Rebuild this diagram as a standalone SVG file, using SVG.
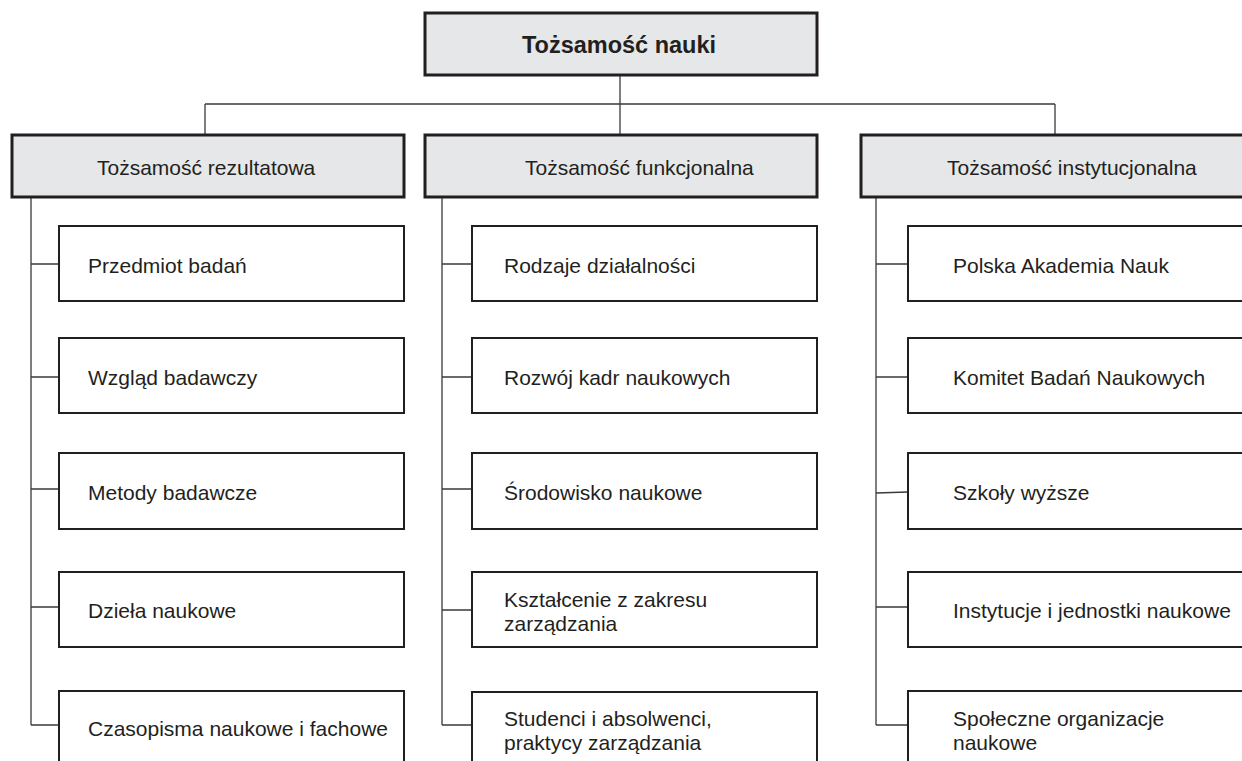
<svg xmlns="http://www.w3.org/2000/svg" width="1242" height="761" viewBox="0 0 1242 761">
<style>
.hdr{fill:#e6e7e8;stroke:#231f20;stroke-width:3}
.box{fill:#fff;stroke:#231f20;stroke-width:2}
.t{font-family:"Liberation Sans",Arial,sans-serif;font-size:21px;fill:#231f20}
.title{font-family:"Liberation Sans",Arial,sans-serif;font-size:23.5px;font-weight:bold;fill:#231f20}
.c{fill:none;stroke:#3a3a3a;stroke-width:1.3}
</style>
<rect width="1242" height="761" fill="#fff"/>
<g id="connectors">
<path class="c" d="M620 75V135M205 104H1055M205 104V135M1055 104V135"/>
<path class="c" d="M31 197V725M31 264H59M31 377H59M31 489H59M31 607H59M31 725H59"/>
<path class="c" d="M442 197V725M442 264H472M442 377H472M442 489H472M442 610H472M442 725H472"/>
<path class="c" d="M876 197V725M876 264H908M876 377H908M876 493L908 492M876 607H908M876 725H908"/>
</g>
<g id="root"><rect class="hdr" x="425" y="13" width="392" height="62"/><text class="title" x="619" y="53" text-anchor="middle">Tożsamość nauki</text></g>
<g id="cat1"><rect class="hdr" x="12" y="135" width="392" height="62"/><text class="t" x="97" y="175">Tożsamość rezultatowa</text></g>
<g id="cat2"><rect class="hdr" x="425" y="135" width="392" height="62"/><text class="t" x="525" y="175">Tożsamość funkcjonalna</text></g>
<g id="cat3"><rect class="hdr" x="861" y="135" width="395" height="62"/><text class="t" x="947" y="175">Tożsamość instytucjonalna</text></g>

<g id="r1"><rect class="box" x="59" y="226" width="345" height="75"/><text class="t" x="88" y="273">Przedmiot badań</text></g>
<g id="r2"><rect class="box" x="59" y="338" width="345" height="75"/><text class="t" x="88" y="385">Wzgląd badawczy</text></g>
<g id="r3"><rect class="box" x="59" y="453" width="345" height="76"/><text class="t" x="88" y="500">Metody badawcze</text></g>
<g id="r4"><rect class="box" x="59" y="572" width="345" height="75"/><text class="t" x="88" y="618">Dzieła naukowe</text></g>
<g id="r5"><rect class="box" x="59" y="691" width="345" height="80"/><text class="t" x="88" y="736">Czasopisma naukowe i fachowe</text></g>

<g id="f1"><rect class="box" x="472" y="226" width="345" height="75"/><text class="t" x="504" y="273">Rodzaje działalności</text></g>
<g id="f2"><rect class="box" x="472" y="338" width="345" height="75"/><text class="t" x="504" y="385">Rozwój kadr naukowych</text></g>
<g id="f3"><rect class="box" x="472" y="453" width="345" height="76"/><text class="t" x="504" y="500">Środowisko naukowe</text></g>
<g id="f4"><rect class="box" x="472" y="572" width="345" height="75"/><text class="t" x="504" y="607">Kształcenie z zakresu</text><text class="t" x="504" y="631">zarządzania</text></g>
<g id="f5"><rect class="box" x="472" y="692" width="345" height="80"/><text class="t" x="504" y="726">Studenci i absolwenci,</text><text class="t" x="504" y="750">praktycy zarządzania</text></g>

<g id="i1"><rect class="box" x="908" y="226" width="345" height="75"/><text class="t" x="953" y="273">Polska Akademia Nauk</text></g>
<g id="i2"><rect class="box" x="908" y="338" width="345" height="75"/><text class="t" x="953" y="385">Komitet Badań Naukowych</text></g>
<g id="i3"><rect class="box" x="908" y="453" width="345" height="76"/><text class="t" x="953" y="500">Szkoły wyższe</text></g>
<g id="i4"><rect class="box" x="908" y="572" width="345" height="75"/><text class="t" x="953" y="618">Instytucje i jednostki naukowe</text></g>
<g id="i5"><rect class="box" x="908" y="691" width="345" height="80"/><text class="t" x="953" y="726">Społeczne organizacje</text><text class="t" x="953" y="750">naukowe</text></g>
</svg>
